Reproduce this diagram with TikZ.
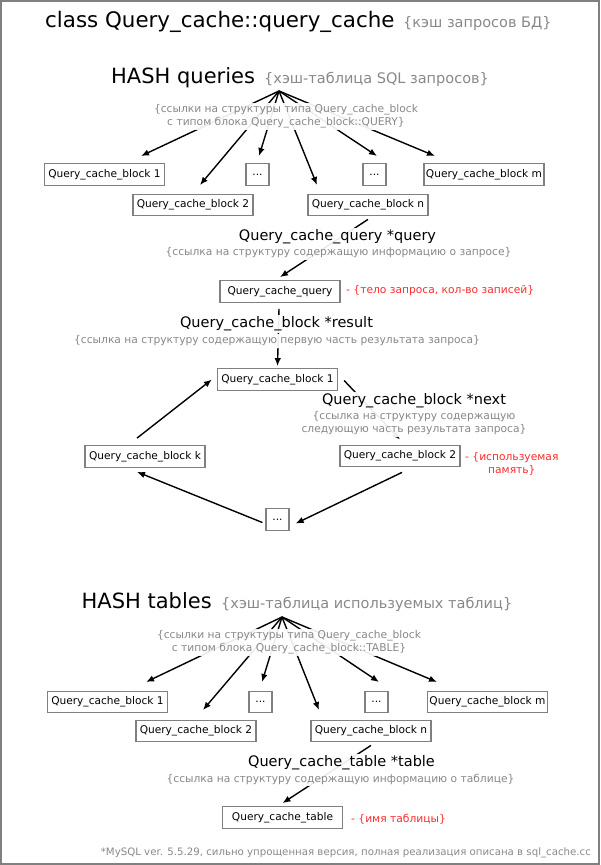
\documentclass[tikz,border=0pt]{standalone}
\usepackage{fontspec}
\setmainfont{DejaVu Sans}
\usetikzlibrary{arrows.meta}
\definecolor{txtgray}{HTML}{888888}
\definecolor{boxgray}{HTML}{808080}
\definecolor{notered}{HTML}{FF2A2A}
\pgfdeclarelayer{bg}
\pgfsetlayers{bg,main}
\tikzset{
  blk/.style={draw=boxgray, line width=1.3pt, fill=white, minimum width=120pt, minimum height=21.5pt, inner sep=0pt, font=\fontsize{10.6}{12}\selectfont},
  dotbox/.style={blk, minimum width=23pt},
  bigtxt/.style={inner sep=0pt, font=\fontsize{21}{25}\selectfont},
  headgray/.style={inner sep=0pt, text=txtgray, font=\fontsize{14.5}{17}\selectfont},
  lbl/.style={fill=white, fill opacity=0.92, text opacity=1, inner sep=2pt, font=\fontsize{14.5}{17}\selectfont},
  sublbl/.style={fill=white, fill opacity=0.92, text opacity=1, inner sep=2pt, text=txtgray, align=center, font=\fontsize{10.7}{13}\selectfont},
  note/.style={text=notered, inner sep=0pt, anchor=west, align=center, font=\fontsize{10.7}{13}\selectfont},
  arr/.style={line width=1.4pt, -{Latex[length=8pt,width=6.5pt]}}
}
\begin{document}
\begin{tikzpicture}[x=1pt,y=-1pt]
\useasboundingbox (0,0) rectangle (600,865);
\draw[boxgray, line width=2pt] (1,1) rectangle (599,864);

% title
\node[bigtxt, anchor=base west, font=\fontsize{21.4}{25}\selectfont] (title) at (45,27.5) {class Query\_cache::query\_cache};
\node[headgray, anchor=base west] (titlec) at (403,27.5) {\{кэш запросов БД\}};

% ---- HASH queries ----
\node[bigtxt, anchor=base west] (hqt) at (111,83) {HASH queries};
\node[headgray, anchor=base west] (hqc) at (264,83) {\{хэш-таблица SQL запросов\}};
\coordinate (hq) at (279,91);
\node[sublbl] (hqs) at (286,116.5) {\{ссылки на структуры типа Query\_cache\_block\\с типом блока Query\_cache\_block::QUERY\}};

\node[blk] (qb1) at (104.5,174.5) {Query\_cache\_block 1};
\node[blk] (qb2) at (193,205) {Query\_cache\_block 2};
\node[dotbox] (qd1) at (257.5,174.5) {...};
\node[blk] (qbn) at (368,205) {Query\_cache\_block n};
\node[dotbox] (qd2) at (374.5,174.5) {...};
\node[blk] (qbm) at (484,174.5) {Query\_cache\_block m};

\coordinate (qt1) at (141,156);
\coordinate (qt2) at (200,185);
\coordinate (qt3) at (259,156);
\coordinate (qt4) at (317,185);
\coordinate (qt5) at (377,156);
\coordinate (qt6) at (435,156);

\node[lbl] (ql) at (337.5,237) {Query\_cache\_query *query};
\node[sublbl] (qls) at (338.5,253) {\{ссылка на структуру содержащую информацию о запросе\}};
\node[blk] (qq) at (280,291.5) {Query\_cache\_query};
\node[note] (qqn) at (346,291) {- \{тело запроса, кол-во записей\}};

\node[lbl] (rl) at (276.5,324) {Query\_cache\_block *result};
\node[sublbl] (rls) at (277,341) {\{ссылка на структуру содержащую первую часть результата запроса\}};

\node[blk] (c1) at (277.5,379.5) {Query\_cache\_block 1};
\node[blk] (ck) at (145,456.5) {Query\_cache\_block k};
\node[blk] (c2) at (400,456) {Query\_cache\_block 2};
\node[dotbox] (cd) at (277.5,519.5) {...};
\node[lbl] (nl) at (414,401) {Query\_cache\_block *next};
\node[sublbl] (nls) at (414,423.5) {\{ссылка на структуру содержащую\\следующую часть результата запроса\}};
\node[note] (c2n) at (465,464) {- \{используемая\\память\}};

% ---- HASH tables ----
\node[bigtxt, anchor=base west] (htt) at (81.5,608.5) {HASH tables};
\node[headgray, anchor=base west] (htc) at (221,608.5) {\{хэш-таблица используемых таблиц\}};
\coordinate (ht) at (282,617);
\node[sublbl] (hts) at (289,642.5) {\{ссылки на структуры типа Query\_cache\_block\\с типом блока Query\_cache\_block::TABLE\}};

\node[blk] (tb1) at (107.5,702) {Query\_cache\_block 1};
\node[blk] (tb2) at (196,731) {Query\_cache\_block 2};
\node[dotbox] (td1) at (260.5,702) {...};
\node[blk] (tbn) at (371,731) {Query\_cache\_block n};
\node[dotbox] (td2) at (376.5,702) {...};
\node[blk] (tbm) at (487.5,702) {Query\_cache\_block m};

\coordinate (tt1) at (146,682);
\coordinate (tt2) at (203,710);
\coordinate (tt3) at (262,682);
\coordinate (tt4) at (319,710);
\coordinate (tt5) at (379,682);
\coordinate (tt6) at (437,682);

\node[lbl] (tl) at (341.5,763) {Query\_cache\_table *table};
\node[sublbl] (tls) at (340.5,779) {\{ссылка на структуру содержащую информацию о таблице\}};
\node[blk] (qt) at (282.5,817.5) {Query\_cache\_table};
\node[note] (qtn) at (351,819) {- \{имя таблицы\}};

\node[inner sep=0pt, anchor=east, text=txtgray, font=\fontsize{10.2}{12}\selectfont] (foot) at (591,853) {*MySQL ver. 5.5.29, сильно упрощенная версия, полная реализация описана в sql\_cache.cc};

% ---- connectors ----
\begin{pgfonlayer}{bg}
\foreach \i in {1,...,6} {
  \draw[arr] (hq) -- (qt\i);
  \draw[arr] (ht) -- (tt\i);
}
\draw[arr] ([yshift=-3pt]qbn.south) -- ([yshift=3pt]qq.north);
\draw[arr] ([xshift=-1pt,yshift=-6pt]qq.south) -- ([yshift=2pt]c1.north);
\draw[arr] ([xshift=6pt,yshift=-1pt]c1.east) -- ([yshift=5pt]c2.north);
\draw[arr] ([xshift=2pt,yshift=-5pt]c2.south) -- ([xshift=6pt,yshift=-4pt]cd.east);
\draw[arr] ([xshift=-3pt,yshift=-3pt]cd.west) -- ([xshift=-8pt,yshift=-4pt]ck.south);
\draw[arr] ([xshift=-8pt,yshift=7pt]ck.north) -- ([xshift=-5pt]c1.west);
\draw[arr] ([yshift=-3pt]tbn.south) -- ([yshift=3pt]qt.north);
\end{pgfonlayer}
\end{tikzpicture}
\end{document}
